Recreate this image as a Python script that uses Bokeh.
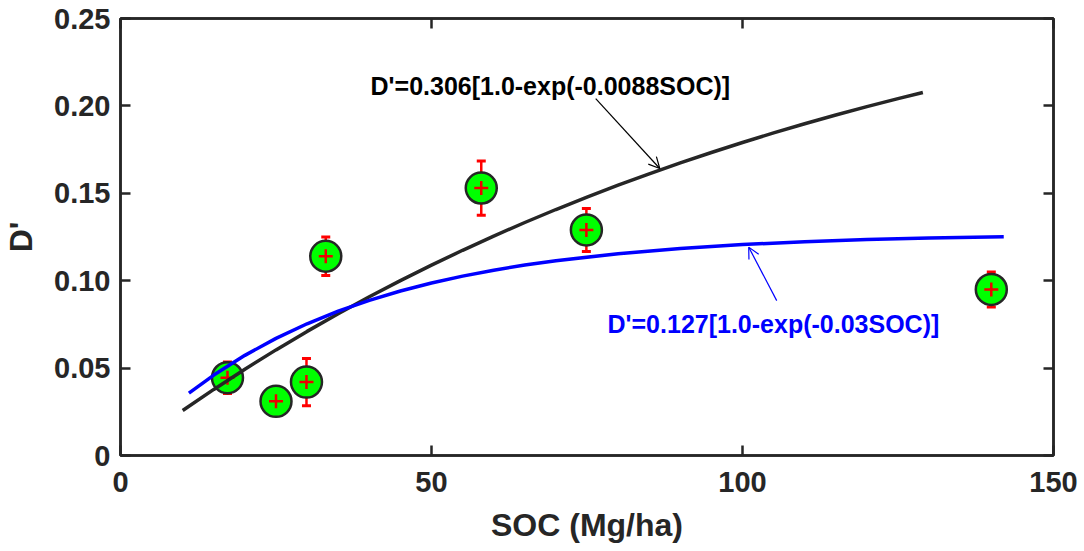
from bokeh.plotting import figure
from bokeh.models import (Range1d, LinearAxis, FixedTicker, CustomJSTickFormatter,
                          Whisker, TeeHead, Arrow, OpenHead, ColumnDataSource)
from bokeh.core.properties import value
from bokeh.embed import file_html
from bokeh.resources import INLINE

# ---- data ----
soc = [17.2, 25.0, 29.9, 33.0, 58.0, 74.9, 140.0]
d_prime = [0.0445, 0.031, 0.042, 0.114, 0.153, 0.129, 0.095]
d_err = [0.009, 0.005, 0.0135, 0.011, 0.0155, 0.0123, 0.010]

# fitted curve D'=0.306[1.0-exp(-0.0088SOC)] (black)
fit1_x = [10, 15, 20, 25, 30, 35, 40, 45, 50, 55, 60, 65, 70, 75, 80, 85, 90, 95,
          100, 105, 110, 115, 120, 125, 129]
fit1_y = [0.02578, 0.03781, 0.04938, 0.06042, 0.07100, 0.08111, 0.09080, 0.10006,
          0.10892, 0.11740, 0.12553, 0.13329, 0.14073, 0.14783, 0.15465, 0.16116,
          0.16740, 0.17336, 0.17908, 0.18454, 0.18977, 0.19477, 0.19956, 0.20414,
          0.20766]
# fitted curve D'=0.127[1.0-exp(-0.03SOC)] (blue)
fit2_x = [11, 15, 20, 25, 30, 35, 40, 45, 50, 55, 60, 65, 70, 80, 90, 100, 110,
          120, 130, 142]
fit2_y = [0.03570, 0.04602, 0.05730, 0.06701, 0.07537, 0.08256, 0.08875, 0.09408,
          0.09866, 0.10260, 0.10601, 0.10893, 0.11145, 0.11548, 0.11846, 0.12068,
          0.12232, 0.12353, 0.12443, 0.12521]

fit1_label = "D'=0.306[1.0-exp(-0.0088SOC)]"
fit2_label = "D'=0.127[1.0-exp(-0.03SOC)]"

x_ticks = [0, 50, 100, 150]
y_ticks = [0, 0.05, 0.10, 0.15, 0.20, 0.25]
y_tick_labels = ["0", "0.05", "0.10", "0.15", "0.20", "0.25"]

x_title = "SOC (Mg/ha)"
y_title = "D'"

# annotation anchors (data units)
label1_pos = (40.2, 0.2111)
label2_pos = (78.3, 0.0755)
arrow1 = (76.4, 0.2042, 86.7, 0.1642)
arrow2 = (105.5, 0.0886, 101.0, 0.1192)

FONT = "Liberation Sans"
AX = "#262626"

p = figure(width=1084, height=551, output_backend="svg", toolbar_location=None,
           x_range=Range1d(0, 150), y_range=Range1d(0, 0.25),
           min_border_left=120, min_border_right=31, min_border_top=18,
           min_border_bottom=96, background_fill_color="white",
           border_fill_color="white")
p.grid.visible = False
p.outline_line_color = AX
p.outline_line_width = 2.5
p.outline_line_alpha = 1.0

fmt_y = CustomJSTickFormatter(args=dict(tvals=y_ticks, tlabels=y_tick_labels), code="""
    for (let i = 0; i < tvals.length; i++) {
        if (Math.abs(tvals[i] - tick) < 1e-9) { return tlabels[i]; }
    }
    return tick.toFixed(2);
""")
blank = CustomJSTickFormatter(code="return '';")

def style(ax):
    ax.axis_line_color = AX
    ax.axis_line_width = 2.5
    ax.major_tick_line_color = AX
    ax.major_tick_line_width = 2.5
    ax.major_tick_in = 10
    ax.major_tick_out = 0
    ax.minor_tick_line_color = None
    ax.major_label_text_font = FONT
    ax.major_label_text_font_style = "bold"
    ax.major_label_text_font_size = "29px"
    ax.major_label_text_color = AX
    ax.axis_label_text_font = FONT
    ax.axis_label_text_font_style = "bold"
    ax.axis_label_text_font_size = "32px"
    ax.axis_label_text_color = AX

xa = p.xaxis[0]
ya = p.yaxis[0]
style(xa)
style(ya)
xa.ticker = FixedTicker(ticks=x_ticks)
ya.ticker = FixedTicker(ticks=y_ticks)
ya.formatter = fmt_y
xa.axis_label = x_title
ya.axis_label = y_title
xa.major_label_standoff = 16
ya.major_label_standoff = 10
xa.axis_label_standoff = 12
ya.axis_label_standoff = 12

top = LinearAxis(ticker=FixedTicker(ticks=x_ticks), formatter=blank)
right = LinearAxis(ticker=FixedTicker(ticks=y_ticks), formatter=blank)
for a in (top, right):
    style(a)
    a.major_label_text_font_size = "1px"
    a.major_label_standoff = 0
p.add_layout(top, "above")
p.add_layout(right, "right")

src = ColumnDataSource(dict(x=soc, y=d_prime,
                            lo=[v - e for v, e in zip(d_prime, d_err)],
                            hi=[v + e for v, e in zip(d_prime, d_err)]))

# green markers
p.scatter("x", "y", source=src, size=31, fill_color="#00FF00",
          line_color=AX, line_width=2.5)
# error bars
wh = Whisker(source=src, base="x", lower="lo", upper="hi", dimension="height",
             line_color="#FF0000", line_width=2.5,
             lower_head=TeeHead(size=9, line_color="#FF0000", line_width=3),
             upper_head=TeeHead(size=9, line_color="#FF0000", line_width=3))
p.add_layout(wh)
p.scatter("x", "y", source=src, marker="cross", size=14, line_color="#EE0000",
          line_width=2.5)

# fitted curves
p.line(fit1_x, fit1_y, line_color=AX, line_width=3.5)
p.line(fit2_x, fit2_y, line_color="#0000FF", line_width=3.5)

# labels
p.text(x=[label1_pos[0]], y=[label1_pos[1]], text=[fit1_label],
       text_font=value(FONT), text_font_style="bold", text_font_size="25px",
       text_color="#000000", text_baseline="alphabetic", text_align="left")
p.text(x=[label2_pos[0]], y=[label2_pos[1]], text=[fit2_label],
       text_font=value(FONT), text_font_style="bold", text_font_size="25px",
       text_color="#0000FF", text_baseline="alphabetic", text_align="left")

p.add_layout(Arrow(x_start=arrow1[0], y_start=arrow1[1], x_end=arrow1[2], y_end=arrow1[3],
                   line_color="#000000", line_width=1.2,
                   end=OpenHead(size=11, line_color="#000000", line_width=1.2)))
p.add_layout(Arrow(x_start=arrow2[0], y_start=arrow2[1], x_end=arrow2[2], y_end=arrow2[3],
                   line_color="#0000FF", line_width=1.2,
                   end=OpenHead(size=11, line_color="#0000FF", line_width=1.2)))

open("out.html", "w").write(file_html(p, INLINE))
